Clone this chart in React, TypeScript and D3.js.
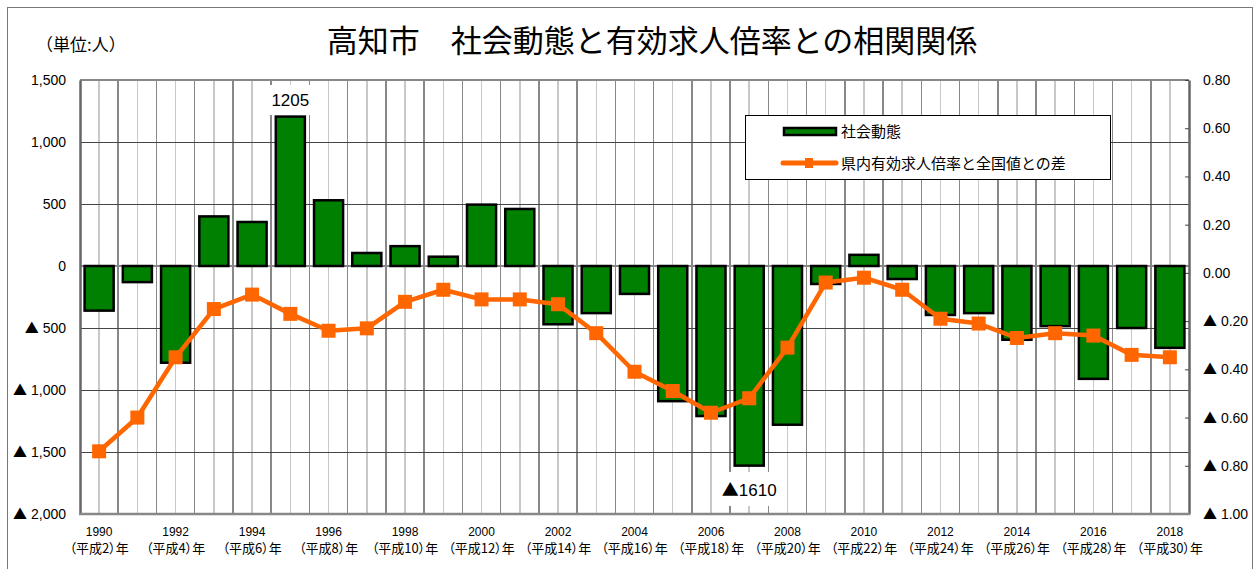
import { useRef, useEffect } from "react";
import * as d3 from "d3";

// 年（西暦）
const years: number[] = d3.range(1990, 2019);

// 社会動態（人）
const socialChange: number[] = [
  -360, -130, -780, 400, 355, 1205, 530, 105, 160, 75, 495, 460, -470, -380,
  -225, -1090, -1210, -1610, -1280, -145, 90, -105, -395, -380, -595, -485,
  -910, -500, -660,
];

// 県内有効求人倍率と全国値との差
const jobRatioDiff: number[] = [
  -0.74, -0.6, -0.35, -0.15, -0.09, -0.17, -0.24, -0.23, -0.12, -0.07, -0.11,
  -0.11, -0.13, -0.25, -0.41, -0.49, -0.58, -0.52, -0.31, -0.04, -0.02, -0.07,
  -0.19, -0.21, -0.27, -0.25, -0.26, -0.34, -0.35,
];

const leftTicks: number[] = [1500, 1000, 500, 0, -500, -1000, -1500, -2000];
const rightTicks: number[] = [0.8, 0.6, 0.4, 0.2, 0, -0.2, -0.4, -0.6, -0.8, -1.0];
const xTickYears: number[] = [1990, 1992, 1994, 1996, 1998, 2000, 2002, 2004, 2006, 2008, 2010, 2012, 2014, 2016, 2018];
const xTickEra: string[] = [
  "（平成2）年", "（平成4）年", "（平成6）年", "（平成8）年", "（平成10）年",
  "（平成12）年", "（平成14）年", "（平成16）年", "（平成18）年", "（平成20）年",
  "（平成22）年", "（平成24）年", "（平成26）年", "（平成28）年", "（平成30）年",
];

const title = "高知市　社会動態と有効求人倍率との相関関係";
const seriesNames = ["社会動態", "県内有効求人倍率と全国値との差"];

const JP = "'Noto Sans CJK JP', 'Noto Sans', sans-serif";
const NUM = "'Liberation Sans', Arial, sans-serif";

export default function App() {
  const ref = useRef<HTMLDivElement>(null);

  useEffect(() => {
    if (!ref.current) return;
    while (ref.current.firstChild) ref.current.removeChild(ref.current.firstChild);
    ref.current.appendChild(drawChart());
  }, []);

  return <div ref={ref} style={{ position: "absolute", left: 0, top: 0 }} />;
}

// "▲ 500" -> bigger triangle from the CJK font, number in Arial-like font
function splitTriangle(sel: d3.Selection<any, any, any, any>) {
  sel.each(function () {
    const t = d3.select(this);
    const s = t.text();
    if (!s.startsWith("▲")) return;
    t.text(null);
    t.append("tspan").attr("font-family", JP).text("▲");
    t.append("tspan").text(s.slice(1));
  });
}

function drawChart() {
  const width = 1258;
  const height = 569;
  const left = 80;
  const right = 1189;
  const top = 80;
  const bottom = 514;

  const x = d3.scaleBand<number>().domain(years).range([left, right]).paddingInner(0).paddingOuter(0);
  const y = d3.scaleLinear().domain([-2000, 1500]).range([bottom, top]);
  const y2 = d3.scaleLinear().domain([-1.0, 0.8]).range([bottom, top]);
  const bw = x.bandwidth();
  const barW = bw * 0.76;

  const fmtLeft = (v: number) => (v < 0 ? "▲ " + d3.format(",")(-v) : d3.format(",")(v));
  const fmtRight = (v: number) => (v < 0 ? "▲ " + d3.format(".2f")(-v) : d3.format(".2f")(v));

  const svg = d3
    .create("svg")
    .attr("width", width)
    .attr("height", height)
    .attr("viewBox", [0, 0, width, height].join(" "))
    .style("display", "block")
    .style("background", "#fff");

  // outer frame
  svg.append("rect")
    .attr("x", 7.5).attr("y", 7.5)
    .attr("width", 1245).attr("height", 580)
    .attr("fill", "#fff").attr("stroke", "#777").attr("stroke-width", 1);

  // title
  svg.append("text")
    .attr("x", 652).attr("y", 52)
    .attr("text-anchor", "middle")
    .attr("font-family", JP).attr("font-size", 31)
    .attr("fill", "#000")
    .text(title);

  svg.append("text")
    .attr("x", 36).attr("y", 51)
    .attr("font-family", JP).attr("font-size", 17)
    .text("（単位:人）");

  const grid = svg.append("g").attr("shape-rendering", "crispEdges");

  // vertical grid: light at centers, dark at boundaries
  grid.selectAll("line.c")
    .data(years)
    .join("line")
    .attr("class", "c")
    .attr("x1", (d) => x(d)! + bw / 2).attr("x2", (d) => x(d)! + bw / 2)
    .attr("y1", top).attr("y2", bottom)
    .attr("stroke", "#c8c8c8").attr("stroke-width", 1.5);

  grid.selectAll("line.b")
    .data(years.slice(1))
    .join("line")
    .attr("class", "b")
    .attr("x1", (d) => x(d)!).attr("x2", (d) => x(d)!)
    .attr("y1", top).attr("y2", bottom)
    .attr("stroke", "#888").attr("stroke-width", 1.5);

  // horizontal grid
  grid.selectAll("line.h")
    .data(leftTicks)
    .join("line")
    .attr("class", "h")
    .attr("x1", left).attr("x2", right)
    .attr("y1", (d) => y(d)).attr("y2", (d) => y(d))
    .attr("stroke", (d) => (d === 0 || d === 1500 ? "#888" : "#444"))
    .attr("stroke-width", (d) => (d === 0 || d === 1500 ? 2 : 1));

  // axes
  const leftAxis = svg.append("g")
    .attr("transform", `translate(${left},0)`)
    .call(d3.axisLeft(y).tickValues(leftTicks).tickFormat((d) => fmtLeft(+d)).tickSize(0).tickPadding(14));
  leftAxis.select(".domain").attr("stroke", "#666").attr("stroke-width", 2.5);
  leftAxis.selectAll("text").attr("font-family", NUM).attr("font-size", 14).attr("fill", "#000").call(splitTriangle);

  const rightAxis = svg.append("g")
    .attr("transform", `translate(${right},0)`)
    .call(d3.axisRight(y2).tickValues(rightTicks).tickFormat((d) => fmtRight(+d)).tickSizeInner(-4).tickSizeOuter(0).tickPadding(14));
  rightAxis.select(".domain").attr("stroke", "#666").attr("stroke-width", 2.5);
  rightAxis.selectAll("line").attr("stroke", "#444");
  rightAxis.selectAll("text").attr("font-family", NUM).attr("font-size", 14).attr("fill", "#000").call(splitTriangle);

  svg.append("line")
    .attr("x1", left - 1).attr("x2", right + 1)
    .attr("y1", bottom).attr("y2", bottom)
    .attr("stroke", "#888").attr("stroke-width", 2.5);

  // x labels
  const xl = svg.append("g").attr("text-anchor", "middle").attr("fill", "#000");
  xl.selectAll("text.yr")
    .data(xTickYears)
    .join("text")
    .attr("class", "yr")
    .attr("x", (d) => x(d)! + bw / 2)
    .attr("y", 536)
    .attr("font-family", NUM).attr("font-size", 12)
    .text((d) => d);
  xl.selectAll("text.era")
    .data(xTickEra)
    .join("text")
    .attr("class", "era")
    .attr("x", (_d, i) => x(xTickYears[i])! + bw / 2)
    .attr("y", 553)
    .attr("font-family", JP).attr("font-size", 13)
    .style("font-feature-settings", "'palt'")
    .text((d) => d);

  // bars
  svg.append("g")
    .selectAll("rect")
    .data(socialChange)
    .join("rect")
    .attr("x", (_d, i) => x(years[i])! + (bw - barW) / 2)
    .attr("y", (d) => y(Math.max(0, d)))
    .attr("width", barW)
    .attr("height", (d) => Math.abs(y(d) - y(0)))
    .attr("fill", "#008000")
    .attr("stroke", "#000")
    .attr("stroke-width", 2.5);

  // data labels
  const iMax = d3.maxIndex(socialChange);
  const iMin = d3.minIndex(socialChange);
  const lab = svg.append("g").attr("font-family", NUM).attr("font-size", 17).attr("text-anchor", "middle");
  const cxMax = x(years[iMax])! + bw / 2;
  lab.append("rect").attr("x", cxMax - 21).attr("y", 85).attr("width", 42).attr("height", 30).attr("fill", "#fff");
  lab.append("text").attr("x", cxMax).attr("y", 106).text(String(socialChange[iMax]));
  const cxMin = x(years[iMin])! + bw / 2;
  lab.append("rect").attr("x", cxMin - 33).attr("y", 472).attr("width", 66).attr("height", 34).attr("fill", "#fff");
  lab.append("text").attr("x", cxMin).attr("y", 496).text("▲" + Math.abs(socialChange[iMin])).call(splitTriangle);

  // line
  const line = d3.line<number>()
    .x((_d, i) => x(years[i])! + bw / 2)
    .y((d) => y2(d));
  svg.append("path")
    .datum(jobRatioDiff)
    .attr("d", line)
    .attr("fill", "none")
    .attr("stroke", "#FF6600")
    .attr("stroke-width", 4.5)
    .attr("stroke-linejoin", "round");
  const ms = 14;
  svg.append("g")
    .selectAll("rect")
    .data(jobRatioDiff)
    .join("rect")
    .attr("x", (_d, i) => x(years[i])! + bw / 2 - ms / 2)
    .attr("y", (d) => y2(d) - ms / 2)
    .attr("width", ms).attr("height", ms)
    .attr("fill", "#FF6600");

  // legend
  const lg = svg.append("g");
  lg.append("rect")
    .attr("x", 745.5).attr("y", 115.5).attr("width", 365).attr("height", 64)
    .attr("fill", "#fff").attr("stroke", "#000").attr("stroke-width", 1);
  lg.append("rect")
    .attr("x", 784).attr("y", 128).attr("width", 52).attr("height", 7)
    .attr("fill", "#008000").attr("stroke", "#000").attr("stroke-width", 2.5);
  lg.append("line")
    .attr("x1", 783).attr("x2", 836).attr("y1", 163).attr("y2", 163)
    .attr("stroke", "#FF6600").attr("stroke-width", 5).attr("stroke-linecap", "round");
  lg.append("rect")
    .attr("x", 805).attr("y", 158).attr("width", 8).attr("height", 10)
    .attr("fill", "#FF6600");
  lg.selectAll("text")
    .data(seriesNames)
    .join("text")
    .attr("x", 841)
    .attr("y", (_d, i) => 137 + i * 32)
    .attr("font-family", JP).attr("font-size", 15)
    .text((d) => d);

  return svg.node()!;
}
